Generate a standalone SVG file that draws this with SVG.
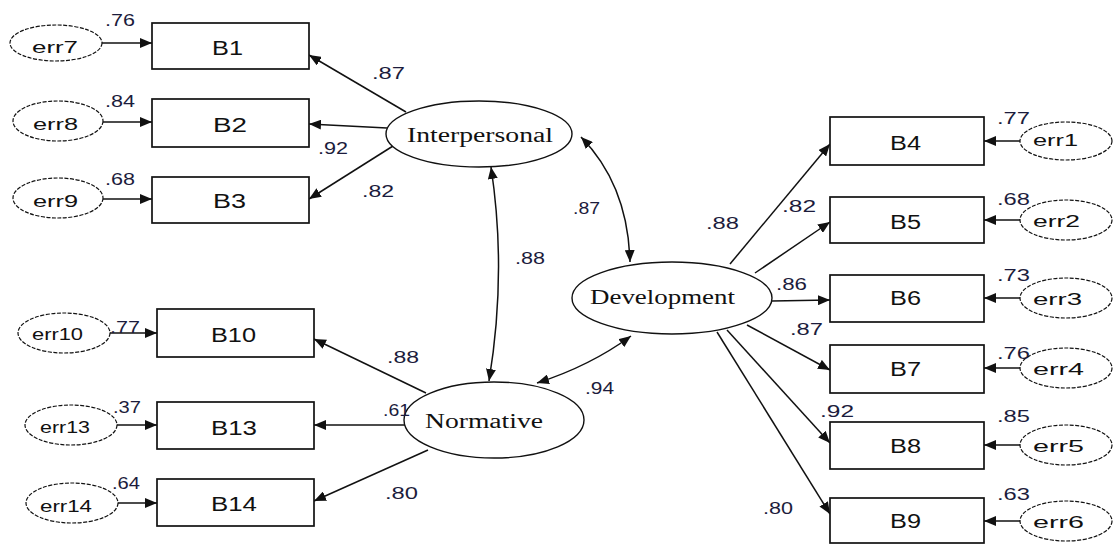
<svg xmlns="http://www.w3.org/2000/svg" width="1114" height="545" viewBox="0 0 1114 545">
<style>
.box{fill:#fff;stroke:#111;stroke-width:1.7}
.lat{fill:#fff;stroke:#111;stroke-width:1.4}
.err{fill:#fff;stroke:#111;stroke-width:1.2;stroke-dasharray:4 1.5}
.ln{fill:none;stroke:#111;stroke-width:1.5}
.bt{font-family:"Liberation Sans",Arial,sans-serif;font-size:20px;fill:#111}
.et{font-family:"Liberation Sans",Arial,sans-serif;font-size:17px;fill:#111}
.lt{font-family:"Liberation Serif","Times New Roman",serif;font-size:20px;fill:#111}
.nt{font-family:"Liberation Sans",Arial,sans-serif;font-size:17px;fill:#1c1c3c}
</style>
<defs>
<marker id="ah" viewBox="0 0 12 10" refX="12" refY="5" markerWidth="12" markerHeight="10" markerUnits="userSpaceOnUse" orient="auto-start-reverse">
<path d="M0,0 L12,5 L0,10 Z" fill="#111"/>
</marker>
</defs>
<rect width="1114" height="545" fill="#fff"/>

<g id="connectors">
<line class="ln" x1="102" y1="43" x2="152" y2="43" marker-end="url(#ah)"/>
<line class="ln" x1="103" y1="122" x2="152" y2="122" marker-end="url(#ah)"/>
<line class="ln" x1="103" y1="199" x2="152" y2="199" marker-end="url(#ah)"/>
<line class="ln" x1="110" y1="333" x2="157" y2="333" marker-end="url(#ah)"/>
<line class="ln" x1="117" y1="425" x2="157" y2="425" marker-end="url(#ah)"/>
<line class="ln" x1="118" y1="503" x2="157" y2="503" marker-end="url(#ah)"/>
<line class="ln" x1="1020" y1="141" x2="984" y2="141" marker-end="url(#ah)"/>
<line class="ln" x1="1020" y1="220" x2="984" y2="220" marker-end="url(#ah)"/>
<line class="ln" x1="1020" y1="298" x2="984" y2="298" marker-end="url(#ah)"/>
<line class="ln" x1="1020" y1="368" x2="984" y2="368" marker-end="url(#ah)"/>
<line class="ln" x1="1020" y1="445" x2="984" y2="445" marker-end="url(#ah)"/>
<line class="ln" x1="1020" y1="521" x2="984" y2="521" marker-end="url(#ah)"/>
<line class="ln" x1="406" y1="112" x2="309" y2="55" marker-end="url(#ah)"/>
<line class="ln" x1="387" y1="128" x2="309" y2="124" marker-end="url(#ah)"/>
<line class="ln" x1="393" y1="146" x2="309" y2="199" marker-end="url(#ah)"/>
<line class="ln" x1="426" y1="393" x2="314" y2="339" marker-end="url(#ah)"/>
<line class="ln" x1="405" y1="425" x2="314" y2="425" marker-end="url(#ah)"/>
<line class="ln" x1="428" y1="450" x2="314" y2="501" marker-end="url(#ah)"/>
<line class="ln" x1="730" y1="264" x2="830" y2="144" marker-end="url(#ah)"/>
<line class="ln" x1="755" y1="273" x2="830" y2="222" marker-end="url(#ah)"/>
<line class="ln" x1="772" y1="301" x2="830" y2="300" marker-end="url(#ah)"/>
<line class="ln" x1="747" y1="325" x2="830" y2="370" marker-end="url(#ah)"/>
<line class="ln" x1="727" y1="330" x2="830" y2="443" marker-end="url(#ah)"/>
<line class="ln" x1="717" y1="332" x2="830" y2="514" marker-end="url(#ah)"/>
<path class="ln" d="M 581 137 Q 628 185 630 262" marker-start="url(#ah)" marker-end="url(#ah)"/>
<path class="ln" d="M 491 167 Q 507 272 489 381" marker-start="url(#ah)" marker-end="url(#ah)"/>
<path class="ln" d="M 631 336 Q 590 366 537 383" marker-start="url(#ah)" marker-end="url(#ah)"/>
</g>

<g id="B1"><rect class="box" x="152" y="23" width="157" height="46"/><text class="bt" x="212" y="55" textLength="31" lengthAdjust="spacingAndGlyphs">B1</text></g>
<g id="B2"><rect class="box" x="152" y="99" width="157" height="48"/><text class="bt" x="213" y="132" textLength="34" lengthAdjust="spacingAndGlyphs">B2</text></g>
<g id="B3"><rect class="box" x="152" y="177" width="157" height="46"/><text class="bt" x="213" y="208" textLength="33" lengthAdjust="spacingAndGlyphs">B3</text></g>
<g id="B10"><rect class="box" x="157" y="309" width="157" height="48"/><text class="bt" x="211" y="342" textLength="45" lengthAdjust="spacingAndGlyphs">B10</text></g>
<g id="B13"><rect class="box" x="157" y="402" width="157" height="47"/><text class="bt" x="211" y="435" textLength="46" lengthAdjust="spacingAndGlyphs">B13</text></g>
<g id="B14"><rect class="box" x="157" y="479" width="157" height="47"/><text class="bt" x="211" y="511" textLength="46" lengthAdjust="spacingAndGlyphs">B14</text></g>
<g id="B4"><rect class="box" x="830" y="117" width="154" height="48"/><text class="bt" x="890" y="150" textLength="31" lengthAdjust="spacingAndGlyphs">B4</text></g>
<g id="B5"><rect class="box" x="830" y="197" width="154" height="46"/><text class="bt" x="890" y="229" textLength="31" lengthAdjust="spacingAndGlyphs">B5</text></g>
<g id="B6"><rect class="box" x="830" y="275" width="154" height="47"/><text class="bt" x="890" y="305" textLength="31" lengthAdjust="spacingAndGlyphs">B6</text></g>
<g id="B7"><rect class="box" x="830" y="345" width="154" height="48"/><text class="bt" x="890" y="376" textLength="31" lengthAdjust="spacingAndGlyphs">B7</text></g>
<g id="B8"><rect class="box" x="830" y="422" width="154" height="47"/><text class="bt" x="890" y="453" textLength="31" lengthAdjust="spacingAndGlyphs">B8</text></g>
<g id="B9"><rect class="box" x="830" y="498" width="154" height="45"/><text class="bt" x="890" y="528" textLength="31" lengthAdjust="spacingAndGlyphs">B9</text></g>

<g id="err7"><ellipse class="err" cx="56" cy="43" rx="46" ry="18"/><text class="et" x="32" y="53" textLength="46" lengthAdjust="spacingAndGlyphs">err7</text></g>
<g id="err8"><ellipse class="err" cx="58" cy="121" rx="45" ry="20"/><text class="et" x="33" y="130" textLength="45" lengthAdjust="spacingAndGlyphs">err8</text></g>
<g id="err9"><ellipse class="err" cx="58" cy="198" rx="45" ry="20"/><text class="et" x="33" y="207" textLength="45" lengthAdjust="spacingAndGlyphs">err9</text></g>
<g id="err10"><ellipse class="err" cx="64" cy="333" rx="46" ry="20"/><text class="et" x="32" y="340" textLength="51" lengthAdjust="spacingAndGlyphs">err10</text></g>
<g id="err13"><ellipse class="err" cx="71" cy="425" rx="46" ry="20"/><text class="et" x="40" y="433" textLength="50" lengthAdjust="spacingAndGlyphs">err13</text></g>
<g id="err14"><ellipse class="err" cx="72" cy="503" rx="46" ry="20"/><text class="et" x="40" y="512" textLength="52" lengthAdjust="spacingAndGlyphs">err14</text></g>
<g id="err1"><ellipse class="err" cx="1066" cy="141" rx="46" ry="19"/><text class="et" x="1033" y="146" textLength="45" lengthAdjust="spacingAndGlyphs">err1</text></g>
<g id="err2"><ellipse class="err" cx="1066" cy="220" rx="46" ry="20"/><text class="et" x="1033" y="227" textLength="47" lengthAdjust="spacingAndGlyphs">err2</text></g>
<g id="err3"><ellipse class="err" cx="1066" cy="298" rx="46" ry="20"/><text class="et" x="1033" y="305" textLength="49" lengthAdjust="spacingAndGlyphs">err3</text></g>
<g id="err4"><ellipse class="err" cx="1066" cy="368" rx="46" ry="20"/><text class="et" x="1033" y="375" textLength="51" lengthAdjust="spacingAndGlyphs">err4</text></g>
<g id="err5"><ellipse class="err" cx="1066" cy="445" rx="46" ry="20"/><text class="et" x="1033" y="452" textLength="51" lengthAdjust="spacingAndGlyphs">err5</text></g>
<g id="err6"><ellipse class="err" cx="1066" cy="521" rx="46" ry="20"/><text class="et" x="1033" y="528" textLength="51" lengthAdjust="spacingAndGlyphs">err6</text></g>

<g id="Interpersonal"><ellipse class="lat" cx="479" cy="134" rx="93" ry="33"/><text class="lt" x="407" y="142" textLength="146" lengthAdjust="spacingAndGlyphs">Interpersonal</text></g>
<g id="Development"><ellipse class="lat" cx="672" cy="298" rx="100" ry="36"/><text class="lt" x="590" y="304" textLength="145" lengthAdjust="spacingAndGlyphs">Development</text></g>
<g id="Normative"><ellipse class="lat" cx="494" cy="420" rx="90" ry="38"/><text class="lt" x="425" y="428" textLength="118" lengthAdjust="spacingAndGlyphs">Normative</text></g>

<g id="labels">
<text class="nt" x="105" y="26" textLength="30" lengthAdjust="spacingAndGlyphs">.76</text>
<text class="nt" x="105" y="107" textLength="30" lengthAdjust="spacingAndGlyphs">.84</text>
<text class="nt" x="105" y="185" textLength="30" lengthAdjust="spacingAndGlyphs">.68</text>
<text class="nt" x="110" y="333" textLength="30" lengthAdjust="spacingAndGlyphs">.77</text>
<text class="nt" x="113" y="413" textLength="28" lengthAdjust="spacingAndGlyphs">.37</text>
<text class="nt" x="112" y="489" textLength="28" lengthAdjust="spacingAndGlyphs">.64</text>
<text class="nt" x="372" y="79" textLength="33" lengthAdjust="spacingAndGlyphs">.87</text>
<text class="nt" x="318" y="154" textLength="30" lengthAdjust="spacingAndGlyphs">.92</text>
<text class="nt" x="362" y="197" textLength="32" lengthAdjust="spacingAndGlyphs">.82</text>
<text class="nt" x="387" y="363" textLength="32" lengthAdjust="spacingAndGlyphs">.88</text>
<text class="nt" x="383" y="416" textLength="27" lengthAdjust="spacingAndGlyphs">.61</text>
<text class="nt" x="385" y="499" textLength="33" lengthAdjust="spacingAndGlyphs">.80</text>
<text class="nt" x="573" y="214" textLength="27" lengthAdjust="spacingAndGlyphs">.87</text>
<text class="nt" x="515" y="264" textLength="30" lengthAdjust="spacingAndGlyphs">.88</text>
<text class="nt" x="585" y="394" textLength="29" lengthAdjust="spacingAndGlyphs">.94</text>
<text class="nt" x="706" y="229" textLength="33" lengthAdjust="spacingAndGlyphs">.88</text>
<text class="nt" x="782" y="212" textLength="34" lengthAdjust="spacingAndGlyphs">.82</text>
<text class="nt" x="776" y="290" textLength="31" lengthAdjust="spacingAndGlyphs">.86</text>
<text class="nt" x="790" y="335" textLength="33" lengthAdjust="spacingAndGlyphs">.87</text>
<text class="nt" x="820" y="417" textLength="34" lengthAdjust="spacingAndGlyphs">.92</text>
<text class="nt" x="763" y="514" textLength="30" lengthAdjust="spacingAndGlyphs">.80</text>
<text class="nt" x="997" y="124" textLength="33" lengthAdjust="spacingAndGlyphs">.77</text>
<text class="nt" x="997" y="205" textLength="33" lengthAdjust="spacingAndGlyphs">.68</text>
<text class="nt" x="997" y="281" textLength="33" lengthAdjust="spacingAndGlyphs">.73</text>
<text class="nt" x="997" y="359" textLength="33" lengthAdjust="spacingAndGlyphs">.76</text>
<text class="nt" x="997" y="422" textLength="33" lengthAdjust="spacingAndGlyphs">.85</text>
<text class="nt" x="997" y="500" textLength="33" lengthAdjust="spacingAndGlyphs">.63</text>
</g>
</svg>
